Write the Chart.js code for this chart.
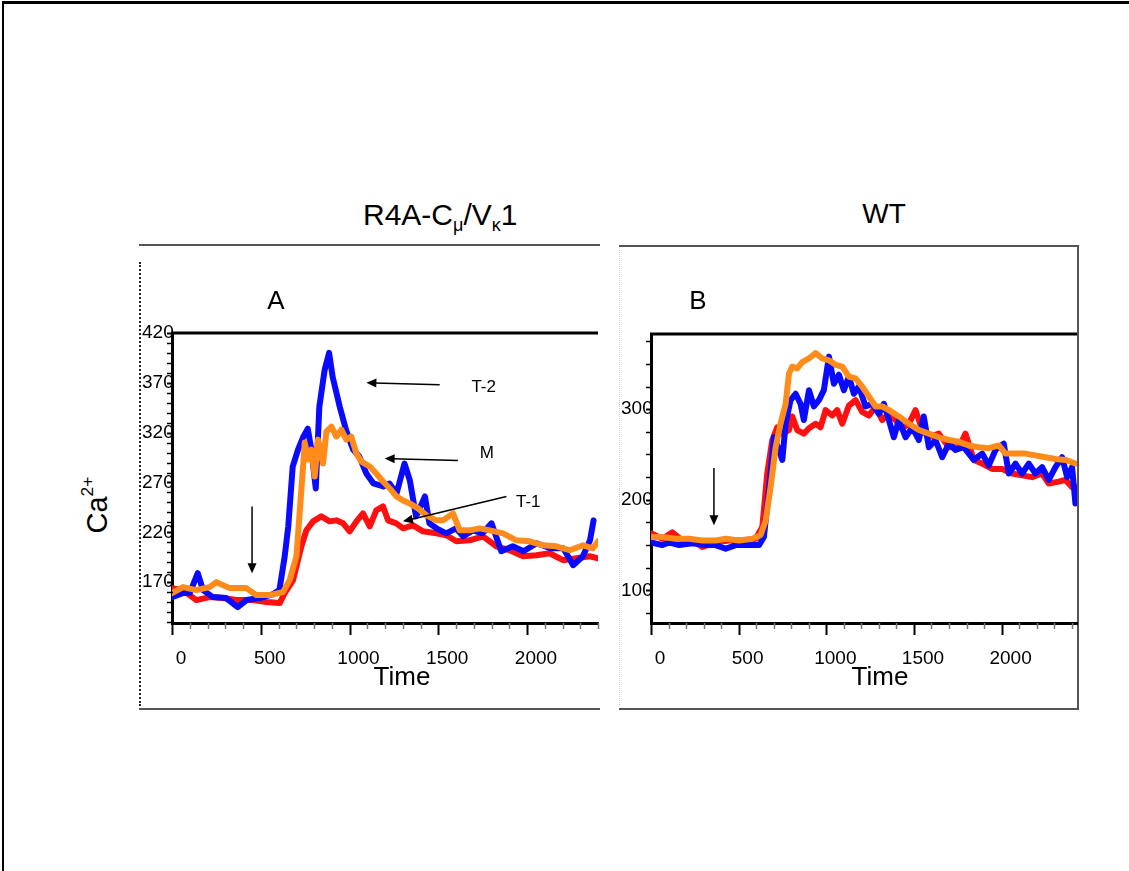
<!DOCTYPE html>
<html>
<head>
<meta charset="utf-8">
<script src="https://cdn.jsdelivr.net/npm/chart.js@4.4.0/dist/chart.umd.min.js"></script>
<style>
html, body { margin: 0; padding: 0; background: #fff; }
#page { position: relative; width: 1129px; height: 871px; overflow: hidden; font-family: 'Liberation Sans', Arial, sans-serif; color: #000; }
.abs { position: absolute; }
.t { position: absolute; white-space: nowrap; line-height: 1; transform: translate(-50%, -50%); }
canvas { position: absolute; }
sub { font-size: 0.6em; vertical-align: -0.35em; line-height: 0; }
sup { font-size: 0.6em; vertical-align: 0.75em; line-height: 0; }
</style>
</head>
<body>
<div id="page">
  <div class="abs" style="left:2px;top:1px;width:1127px;border-top:3px solid #000"></div>
  <div class="abs" style="left:2px;top:1px;height:870px;border-left:2px solid #000"></div>

  <div class="abs" style="left:139px;top:244px;width:461px;height:462px;border-top:2px solid #555;border-bottom:2px solid #555"></div>
  <div class="abs" style="left:139px;top:262px;height:444px;border-left:2px dotted #222"></div>
  <div class="abs" style="left:619px;top:245px;width:458px;height:461px;border-top:2px solid #555;border-bottom:2px solid #555;border-right:2px solid #555"></div>
  <div class="abs" style="left:619px;top:250px;height:455px;border-left:1px dotted #ccc"></div>

  <canvas id="chartA" width="462" height="464" style="left:139px;top:245px"></canvas>
  <canvas id="chartB" width="461" height="464" style="left:619px;top:245px"></canvas>

  <div class="abs" style="left:363px;top:200px;font-size:30px;line-height:1;white-space:nowrap">R4A-C<sub>μ</sub>/V<sub>κ</sub>1</div>
  <div class="t" style="left:884px;top:214px;font-size:28px">WT</div>
  <div class="t" style="left:276px;top:300px;font-size:26px">A</div>
  <div class="t" style="left:698px;top:300px;font-size:26px">B</div>
  <div class="t" style="left:402px;top:676px;font-size:26px">Time</div>
  <div class="t" style="left:880px;top:676px;font-size:26px">Time</div>
  <div class="t" style="left:97px;top:505px;font-size:29px;transform:translate(-50%,-50%) rotate(-90deg)">Ca<sup>2+</sup></div>
</div>

<script>
// ---- panel A : R4A-Cmu/Vkappa1 ----
var aTimeT2 = [0,60,100,145,175,230,305,370,420,495,570,605,635,655,680,710,740,765,785,810,830,860,885,905,945,980,1020,1055,1095,1135,1190,1225,1265,1310,1340,1375,1425,1450,1490,1545,1600,1640,1695,1750,1800,1855,1920,1980,2055,2130,2205,2260,2315,2355,2375];
var aT2 = [155,159,159,179,162,155,154,145,152,154,158,162,196,226,286,303,316,324,303,264,346,383,400,376,346,323,303,296,279,269,266,269,259,289,272,236,256,229,224,219,224,216,222,219,229,201,206,201,209,204,204,187,196,212,232];

var aTimeT1 = [0,62,137,212,287,363,457,532,607,635,682,729,757,795,841,888,926,964,1001,1039,1076,1114,1151,1189,1217,1264,1302,1358,1414,1489,1546,1602,1677,1752,1827,1903,1978,2053,2128,2203,2278,2353,2400];
var aT1 = [164,162,152,155,154,152,152,150,149,159,172,206,222,231,236,231,232,229,221,231,239,226,242,246,232,229,224,227,221,219,217,211,212,216,206,202,196,197,199,192,194,196,194];

var aTimeM = [0,62,137,212,250,325,419,475,550,625,663,701,729,748,766,785,804,823,851,870,898,926,954,982,1010,1039,1067,1114,1151,1189,1227,1264,1302,1339,1386,1433,1489,1527,1583,1621,1677,1734,1790,1865,1940,2015,2090,2165,2240,2316,2372,2400];
var aM = [159,165,162,165,170,164,164,157,157,160,172,196,263,310,293,303,276,313,289,321,326,316,323,313,316,299,291,286,279,271,264,256,252,249,244,237,232,232,239,222,222,224,222,219,212,211,207,206,202,207,204,211];

// ---- panel B : WT ----
var bTimeBlue = [0,65,103,160,236,312,369,426,483,559,616,644,673,701,730,749,768,796,825,853,872,901,929,958,986,1015,1043,1072,1100,1129,1157,1186,1224,1262,1300,1328,1357,1385,1414,1452,1490,1528,1556,1585,1623,1661,1699,1737,1784,1841,1889,1927,1965,2012,2041,2079,2117,2155,2193,2231,2269,2307,2345,2374,2402,2421];
var bBlue = [153,150,153,150,152,150,150,146,150,150,150,159,211,269,255,244,284,310,317,306,288,321,303,310,321,358,328,338,321,336,317,325,303,306,295,306,288,269,288,269,280,266,292,258,266,247,262,255,258,244,251,238,255,262,229,240,229,240,229,236,222,236,247,225,236,196];

var bTimeRed = [0,65,122,179,236,293,369,445,521,597,635,663,692,720,749,787,806,834,872,901,939,967,996,1034,1062,1091,1129,1167,1205,1243,1281,1319,1357,1395,1433,1471,1509,1547,1585,1642,1699,1756,1794,1841,1889,1946,2003,2060,2117,2174,2231,2269,2326,2364,2402,2421];
var bRed = [163,157,164,155,155,148,153,155,155,157,170,229,266,280,273,277,292,277,273,279,284,280,299,293,299,284,304,310,297,293,303,288,295,288,279,284,299,277,269,273,258,258,273,244,240,234,234,229,227,225,229,218,220,222,214,214];

var bTimeOrange = [0,65,141,217,293,369,426,502,578,625,654,682,711,739,768,787,806,834,863,901,939,977,1015,1053,1091,1129,1167,1205,1243,1281,1319,1357,1414,1471,1528,1585,1642,1699,1756,1813,1870,1927,1984,2022,2079,2136,2193,2250,2307,2364,2421];
var bOrange = [159,159,157,157,155,155,157,155,157,161,177,214,258,284,306,339,347,345,352,356,362,356,354,349,347,336,334,325,314,303,303,299,292,284,277,273,269,266,264,260,258,257,260,251,251,251,249,247,245,244,240];

// tick labels
var xTicks = [0,500,1000,1500,2000];
var aYTicks = [170,220,270,320,370,420];
var bYTicks = [100,200,300];

const BLUE = '#0a0aff', RED = '#ff1010', ORANGE = '#ff8c1a';
const FONT = "'Liberation Sans', Arial, sans-serif";

function pts(xs, ys) { return xs.map(function (x, i) { return {x: x, y: ys[i]}; }); }

function range(from, to, step) {
  var out = [];
  for (var v = from; v <= to + 1e-6; v += step) out.push(v);
  return out;
}

// minor ticks, top frame line and the arrows/labels inside the plot
const panelDecor = {
  id: 'panelDecor',
  afterDraw(chart, args, opts) {
    const ctx = chart.ctx, a = chart.chartArea, xs = chart.scales.x, ys = chart.scales.y;
    ctx.save();
    ctx.strokeStyle = '#000';
    ctx.lineWidth = 3;
    ctx.beginPath(); ctx.moveTo(a.left - 1, a.top); ctx.lineTo(a.right, a.top); ctx.stroke();

    // x ticks
    range(xs.min, xs.max, 100).forEach(function (v) {
      const major = v % 500 === 0;
      const px = Math.round(xs.getPixelForValue(v)) + 0.5;
      ctx.strokeStyle = major ? '#000' : '#777';
      ctx.lineWidth = major ? 2 : 1.5;
      ctx.beginPath(); ctx.moveTo(px, a.bottom); ctx.lineTo(px, a.bottom + (major ? 12 : 6)); ctx.stroke();
    });
    // y ticks
    ctx.strokeStyle = '#000';
    opts.yMinor.forEach(function (v) {
      if (v < ys.min || v > ys.max) return;
      const py = Math.round(ys.getPixelForValue(v)) + 0.5;
      ctx.lineWidth = opts.yMajor.indexOf(v) >= 0 ? 2 : 1.5;
      ctx.beginPath(); ctx.moveTo(a.left - 5, py); ctx.lineTo(a.left + 1, py); ctx.stroke();
    });

    // arrows
    ctx.strokeStyle = '#000';
    ctx.fillStyle = '#000';
    ctx.lineWidth = 1.5;
    (opts.arrows || []).forEach(function (ar) {
      const x1 = xs.getPixelForValue(ar.from[0]), y1 = ys.getPixelForValue(ar.from[1]);
      const x2 = xs.getPixelForValue(ar.to[0]), y2 = ys.getPixelForValue(ar.to[1]);
      const ang = Math.atan2(y2 - y1, x2 - x1);
      const hl = 10, hw = 4.5;
      ctx.beginPath(); ctx.moveTo(x1, y1);
      ctx.lineTo(x2 - Math.cos(ang) * hl * 0.8, y2 - Math.sin(ang) * hl * 0.8); ctx.stroke();
      ctx.beginPath();
      ctx.moveTo(x2, y2);
      ctx.lineTo(x2 - Math.cos(ang) * hl - Math.sin(ang) * hw, y2 - Math.sin(ang) * hl + Math.cos(ang) * hw);
      ctx.lineTo(x2 - Math.cos(ang) * hl + Math.sin(ang) * hw, y2 - Math.sin(ang) * hl - Math.cos(ang) * hw);
      ctx.closePath(); ctx.fill();
    });
    ctx.font = '17px ' + FONT;
    ctx.textAlign = 'center';
    ctx.textBaseline = 'middle';
    (opts.notes || []).forEach(function (n) {
      ctx.fillText(n.text, xs.getPixelForValue(n.at[0]), ys.getPixelForValue(n.at[1]));
    });
    ctx.restore();
  }
};

function makePanel(id, datasets, cfg) {
  return new Chart(document.getElementById(id), {
    type: 'line',
    data: { datasets: datasets },
    plugins: [panelDecor],
    options: {
      responsive: false,
      animation: false,
      layout: { padding: { top: cfg.top, right: cfg.right, left: 0, bottom: 0 } },
      elements: {
        point: { radius: 0 },
        line: { borderWidth: 6, tension: 0, borderJoinStyle: 'round', borderCapStyle: 'round' }
      },
      plugins: {
        legend: { display: false },
        tooltip: { enabled: false },
        panelDecor: { yMajor: cfg.yTicks, yMinor: cfg.yMinor, arrows: cfg.arrows, notes: cfg.notes }
      },
      scales: {
        x: {
          type: 'linear', min: 0, max: cfg.xMax,
          grid: { display: false, drawTicks: false },
          border: { display: true, width: 3, color: '#000' },
          afterBuildTicks: function (s) { s.ticks = xTicks.map(function (v) { return {value: v}; }); },
          afterFit: function (s) { s.height = 86; },
          ticks: {
            padding: 24, labelOffset: 9, maxRotation: 0, autoSkip: false, color: '#000',
            font: { family: FONT, size: 19 },
            callback: function (v) { return String(v); }
          }
        },
        y: {
          type: 'linear', min: cfg.yMin, max: cfg.yMax,
          grid: { display: false, drawTicks: false },
          border: { display: true, width: 3, color: '#000' },
          afterBuildTicks: function (s) { s.ticks = cfg.yTicks.map(function (v) { return {value: v}; }); },
          afterFit: function (s) { s.width = cfg.yWidth; },
          // mirrored labels are not clipped to the axis box, so they can overlap the axis line
          ticks: {
            mirror: true, padding: -30, color: '#000',
            font: { family: FONT, size: 19 },
            callback: function (v) { return String(v); }
          }
        }
      }
    }
  });
}

makePanel('chartA', [
  { label: 'M', data: pts(aTimeM, aM), borderColor: ORANGE, order: 1 },
  { label: 'T-2', data: pts(aTimeT2, aT2), borderColor: BLUE, order: 2 },
  { label: 'T-1', data: pts(aTimeT1, aT1), borderColor: RED, order: 3 }
], {
  top: 88, right: 3, yWidth: 33, xMax: 2400, yMin: 129, yMax: 420,
  yTicks: aYTicks, yMinor: range(130, 420, 10),
  arrows: [
    { from: [1508, 368], to: [1095, 370] },
    { from: [1611, 292], to: [1198, 294] },
    { from: [1884, 256], to: [1301, 231] },
    { from: [451, 246], to: [451, 179] }
  ],
  notes: [
    { text: 'T-2', at: [1756, 366] },
    { text: 'M', at: [1773, 299] },
    { text: 'T-1', at: [2007, 250] }
  ]
});

makePanel('chartB', [
  { label: 'orange', data: pts(bTimeOrange, bOrange), borderColor: ORANGE, order: 1 },
  { label: 'blue', data: pts(bTimeBlue, bBlue), borderColor: BLUE, order: 2 },
  { label: 'red', data: pts(bTimeRed, bRed), borderColor: RED, order: 3 }
], {
  top: 89, right: 3, yWidth: 32, xMax: 2430, yMin: 64, yMax: 383,
  yTicks: bYTicks, yMinor: range(75, 375, 25),
  arrows: [ { from: [359, 235], to: [359, 172] } ],
  notes: []
});
</script>
</body>
</html>
